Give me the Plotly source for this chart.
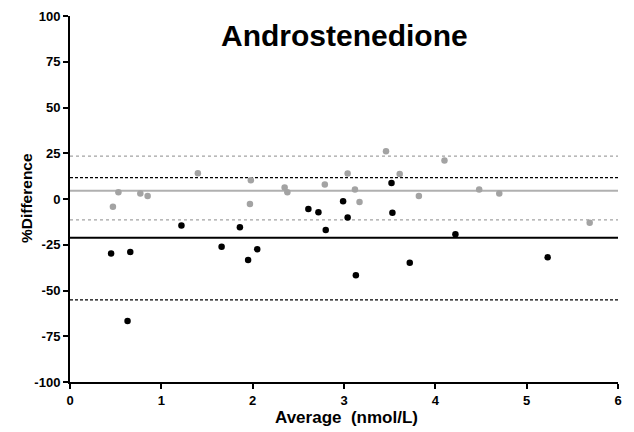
import plotly.graph_objects as go

# Grey series (method A)
grey_x = [0.47, 0.53, 0.77, 0.85, 1.40, 1.97, 1.98, 2.35, 2.38, 2.79,
          3.04, 3.12, 3.17, 3.46, 3.61, 3.82, 4.10, 4.48, 4.70, 5.69]
grey_y = [-4.3, 3.7, 3.0, 1.7, 14.1, -2.8, 10.3, 6.3, 3.7, 7.9,
          13.9, 5.2, -1.7, 26.1, 13.6, 1.7, 21.0, 5.2, 3.0, -13.0]

# Black series (method B)
black_x = [0.45, 0.63, 0.66, 1.22, 1.66, 1.86, 1.95, 2.05, 2.61, 2.72,
           2.80, 2.99, 3.04, 3.13, 3.52, 3.53, 3.72, 4.22, 5.23]
black_y = [-29.8, -66.6, -28.9, -14.5, -26.1, -15.4, -33.4, -27.4, -5.4, -7.2,
           -17.0, -1.2, -10.1, -41.6, 8.8, -7.5, -34.9, -19.2, -31.8]

# Bias and limits of agreement
grey_bias = 4.5
grey_limits = [23.4, -11.4]
black_bias = -21.2
black_limits = [11.7, -55.1]

x_span = [0, 6]
x_ticks = [0, 1, 2, 3, 4, 5, 6]
y_ticks = [-100, -75, -50, -25, 0, 25, 50, 75, 100]

title_text = "Androstenedione"
x_title = "Average  (nmol/L)"
y_title = "%Difference"

FONT = "Arial, 'Liberation Sans', sans-serif"
GREY = "#a3a3a3"

W, H = 634, 432
ML, MR, MT, MB = 70, 16, 16, 50
PW, PH = W - ML - MR, H - MT - MB


def px(X):
    return (X - ML) / PW


def py(Y):
    return (H - MB - Y) / PH


fig = go.Figure()

# Lines
for v in grey_limits:
    fig.add_trace(go.Scatter(x=x_span, y=[v, v], mode="lines",
                             line=dict(color=GREY, width=1.3, dash="dot"),
                             hoverinfo="skip", showlegend=False))
for v in black_limits:
    fig.add_trace(go.Scatter(x=x_span, y=[v, v], mode="lines",
                             line=dict(color="black", width=1.2, dash="3px,2px"),
                             hoverinfo="skip", showlegend=False))
fig.add_trace(go.Scatter(x=x_span, y=[grey_bias, grey_bias], mode="lines",
                         line=dict(color="#b0b0b0", width=2),
                         hoverinfo="skip", showlegend=False))
fig.add_trace(go.Scatter(x=x_span, y=[black_bias, black_bias], mode="lines",
                         line=dict(color="black", width=2),
                         hoverinfo="skip", showlegend=False))

# Points
fig.add_trace(go.Scatter(x=grey_x, y=grey_y, mode="markers",
                         marker=dict(color=GREY, size=6.5), showlegend=False))
fig.add_trace(go.Scatter(x=black_x, y=black_y, mode="markers",
                         marker=dict(color="black", size=6.5), showlegend=False))

fig.update_layout(
    width=W, height=H,
    margin=dict(l=ML, r=MR, t=MT, b=MB, autoexpand=False),
    paper_bgcolor="white", plot_bgcolor="white",
    font=dict(family=FONT, color="black"),
    showlegend=False,
    annotations=[
        dict(text=f"<b>{title_text}</b>", x=px(344), y=py(36), xref="paper", yref="paper",
             xanchor="center", yanchor="middle", showarrow=False,
             font=dict(size=30, family=FONT)),
        dict(text=f"<b>{x_title}</b>", x=px(346), y=py(417), xref="paper", yref="paper",
             xanchor="center", yanchor="middle", showarrow=False,
             font=dict(size=17, family=FONT)),
        dict(text=f"<b>{y_title}</b>", x=px(26), y=py(198), xref="paper", yref="paper",
             xanchor="center", yanchor="middle", showarrow=False, textangle=-90,
             font=dict(size=15.5, family=FONT)),
    ],
)

fig.update_xaxes(range=x_span, tickvals=x_ticks, ticktext=[f"<b>{t}</b>" for t in x_ticks],
                 showline=True, linecolor="black", linewidth=2,
                 ticks="outside", ticklen=5, tickwidth=2, tickcolor="black",
                 showgrid=False, zeroline=False, automargin=False,
                 tickfont=dict(size=13, family=FONT))
fig.update_yaxes(range=[-100, 100], tickvals=y_ticks, ticktext=[f"<b>{t}</b>" for t in y_ticks],
                 showline=True, linecolor="black", linewidth=2,
                 ticks="outside", ticklen=5, tickwidth=2, tickcolor="black",
                 showgrid=False, zeroline=False, automargin=False,
                 tickfont=dict(size=13, family=FONT))

fig.write_html("out.html", config={"displayModeBar": False},
               post_script="document.body.style.margin='0';document.body.style.padding='0';")
